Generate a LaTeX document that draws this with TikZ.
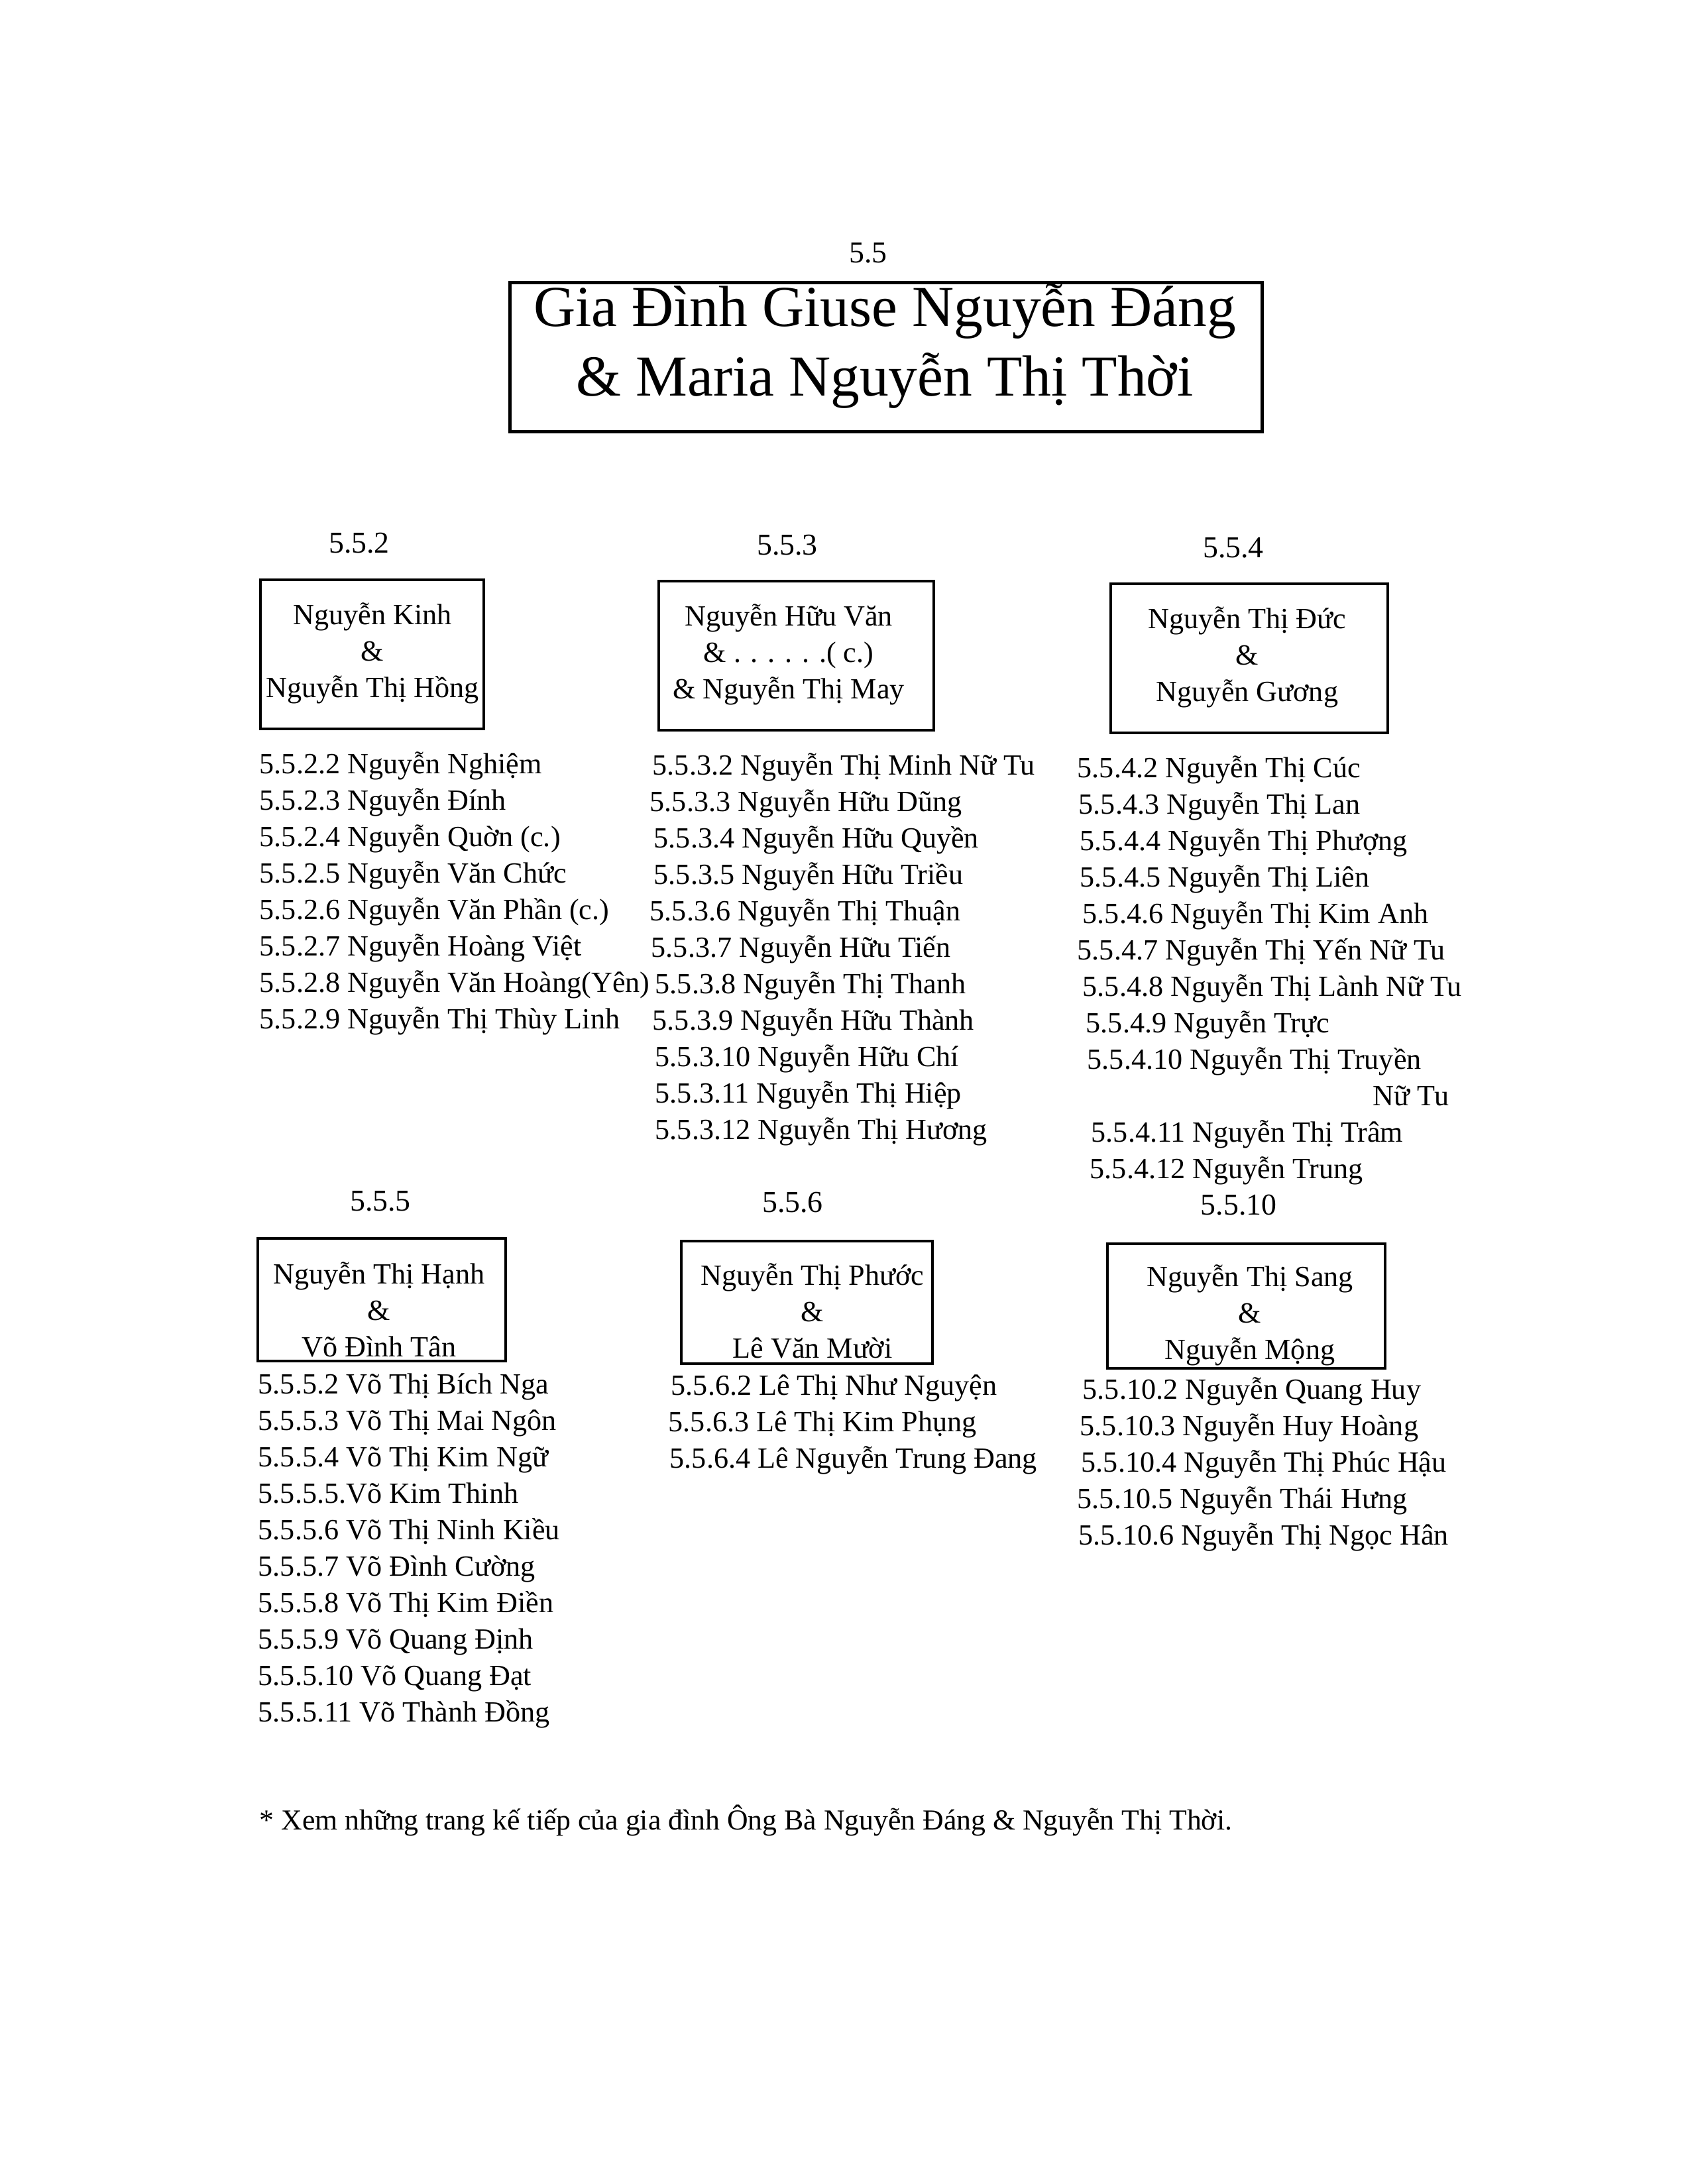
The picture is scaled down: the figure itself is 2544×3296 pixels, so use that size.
\documentclass[tikz,border=0pt]{standalone}
\usepackage{fontspec}
\setmainfont{Liberation Serif}
\tikzset{
  famBox/.style={draw, line width=1pt, inner sep=0pt},
  titleText/.style={align=center, inner sep=0pt, font=\fontsize{21}{25.2}\selectfont},
  boxText/.style={align=center, inner sep=0pt, font=\fontsize{10.6}{13.2}\selectfont},
  kid/.style={anchor=base west, inner sep=0pt, font=\fontsize{10.6}{13.2}\selectfont},
  genLabel/.style={anchor=base, inner sep=0pt, font=\fontsize{11}{13}\selectfont},
  noteText/.style={anchor=base west, inner sep=0pt, font=\fontsize{10.5}{13}\selectfont},
}

\begin{document}
\begin{tikzpicture}[x=0.24pt, y=-0.24pt]
\fill[white] (0,0) rectangle (2544,3296);
\useasboundingbox (0,0) rectangle (2544,3296);

% === Title ===
\node[genLabel] (l55) at (1310,397) {5.5};
\node[famBox, minimum width=272.4pt, minimum height=54pt] (b55) at (1337,539) {};
\node[titleText] (t55) at (1335,522) {Gia Đình Giuse Nguyễn Đáng\\\& Maria Nguyễn Thị Thời};

% === Row 1: 5.5.2 ===
\node[genLabel] (l552) at (542,835) {5.5.2};
\node[famBox, minimum width=80.9pt, minimum height=54pt] (b552) at (561.5,987.5) {};
\node[boxText] (t552) at (562,986) {Nguyễn Kinh\\\&\\Nguyễn Thị Hồng};
\foreach \txt [count=\i from 0] in {5.5.2.2 Nguyễn Nghiệm, 5.5.2.3 Nguyễn Đính,
    5.5.2.4 Nguyễn Quờn (c.), 5.5.2.5 Nguyễn Văn Chức, 5.5.2.6 Nguyễn Văn Phần (c.),
    5.5.2.7 Nguyễn Hoàng Việt, 5.5.2.8 Nguyễn Văn Hoàng(Yên), 5.5.2.9 Nguyễn Thị Thùy Linh}
  \node[kid] (k552-\i) at (391,1167+55*\i) {\txt};

% === Row 1: 5.5.3 ===
\node[genLabel] (l553) at (1188,837) {5.5.3};
\node[famBox, minimum width=99.6pt, minimum height=54pt] (b553) at (1201.5,989.5) {};
\node[boxText] (t553) at (1190,988) {Nguyễn Hữu Văn\\\& . . . . . .( c.)\\\& Nguyễn Thị May};
\foreach \dx/\txt [count=\i from 0] in {0/5.5.3.2 Nguyễn Thị Minh Nữ Tu, -4/5.5.3.3 Nguyễn Hữu Dũng,
    2/5.5.3.4 Nguyễn Hữu Quyền, 2/5.5.3.5 Nguyễn Hữu Triều, -4/5.5.3.6 Nguyễn Thị Thuận,
    -2/5.5.3.7 Nguyễn Hữu Tiến, 4/5.5.3.8 Nguyễn Thị Thanh, 0/5.5.3.9 Nguyễn Hữu Thành,
    4/5.5.3.10 Nguyễn Hữu Chí, 4/5.5.3.11 Nguyễn Thị Hiệp, 4/5.5.3.12 Nguyễn Thị Hương}
  \node[kid] (k553-\i) at (984+\dx,1169+55*\i) {\txt};

% === Row 1: 5.5.4 ===
\node[genLabel] (l554) at (1861,841) {5.5.4};
\node[famBox, minimum width=100.3pt, minimum height=54pt] (b554) at (1885,993.5) {};
\node[boxText] (t554) at (1882,992) {Nguyễn Thị Đức\\\&\\Nguyễn Gương};
\foreach \dx/\r/\txt in {0/0/5.5.4.2 Nguyễn Thị Cúc, 2/1/5.5.4.3 Nguyễn Thị Lan,
    4/2/5.5.4.4 Nguyễn Thị Phượng, 4/3/5.5.4.5 Nguyễn Thị Liên, 8/4/5.5.4.6 Nguyễn Thị Kim Anh,
    0/5/5.5.4.7 Nguyễn Thị Yến Nữ Tu, 8/6/5.5.4.8 Nguyễn Thị Lành Nữ Tu, 13/7/5.5.4.9 Nguyễn Trực,
    15/8/5.5.4.10 Nguyễn Thị Truyền, 21/10/5.5.4.11 Nguyễn Thị Trâm, 19/11/5.5.4.12 Nguyễn Trung}
  \node[kid] (k554-\r) at (1625+\dx,1173+55*\r) {\txt};
\node[kid, anchor=base east] (k554-9) at (2187,1173+55*9) {Nữ Tu};

% === Row 2: 5.5.5 ===
\node[genLabel] (l555) at (574,1827) {5.5.5};
\node[famBox, minimum width=89.8pt, minimum height=44.4pt] (b555) at (576,1961.5) {};
\node[boxText] (t555) at (572,1976) {Nguyễn Thị Hạnh\\\&\\Võ Đình Tân};
\foreach \txt [count=\i from 0] in {5.5.5.2 Võ Thị Bích Nga, 5.5.5.3 Võ Thị Mai Ngôn,
    5.5.5.4 Võ Thị Kim Ngữ, 5.5.5.5.Võ Kim Thinh, 5.5.5.6 Võ Thị Ninh Kiều,
    5.5.5.7 Võ Đình Cường, 5.5.5.8 Võ Thị Kim Điền, 5.5.5.9 Võ Quang Định,
    5.5.5.10 Võ Quang Đạt, 5.5.5.11 Võ Thành Đồng}
  \node[kid] (k555-\i) at (389,2103+55*\i) {\txt};

% === Row 2: 5.5.6 ===
\node[genLabel] (l556) at (1196,1829) {5.5.6};
\node[famBox, minimum width=91pt, minimum height=44.4pt] (b556) at (1217.5,1965.5) {};
\node[boxText] (t556) at (1226,1978) {Nguyễn Thị Phước\\\&\\Lê Văn Mười};
\foreach \dx/\txt [count=\i from 0] in {4/5.5.6.2 Lê Thị Như Nguyện, 0/5.5.6.3 Lê Thị Kim Phụng,
    2/5.5.6.4 Lê Nguyễn Trung Đang}
  \node[kid] (k556-\i) at (1008+\dx,2105+55*\i) {\txt};

% === Row 2: 5.5.10 ===
\node[genLabel] (l5510) at (1869,1833) {5.5.10};
\node[famBox, minimum width=100.6pt, minimum height=45.1pt] (b5510) at (1880.5,1971) {};
\node[boxText] (t5510) at (1886,1985) {Nguyễn Thị Sang\\\&\\Nguyễn Mộng};
\foreach \dx/\txt [count=\i from 0] in {8/5.5.10.2 Nguyễn Quang Huy, 4/5.5.10.3 Nguyễn Huy Hoàng,
    6/5.5.10.4 Nguyễn Thị Phúc Hậu, 0/5.5.10.5 Nguyễn Thái Hưng, 2/5.5.10.6 Nguyễn Thị Ngọc Hân}
  \node[kid] (k5510-\i) at (1625+\dx,2111+55*\i) {\txt};

% === Footnote ===
\node[noteText] (note) at (391,2761) {* Xem những trang kế tiếp của gia đình Ông Bà Nguyễn Đáng \& Nguyễn Thị Thời.};

\end{tikzpicture}
\end{document}
